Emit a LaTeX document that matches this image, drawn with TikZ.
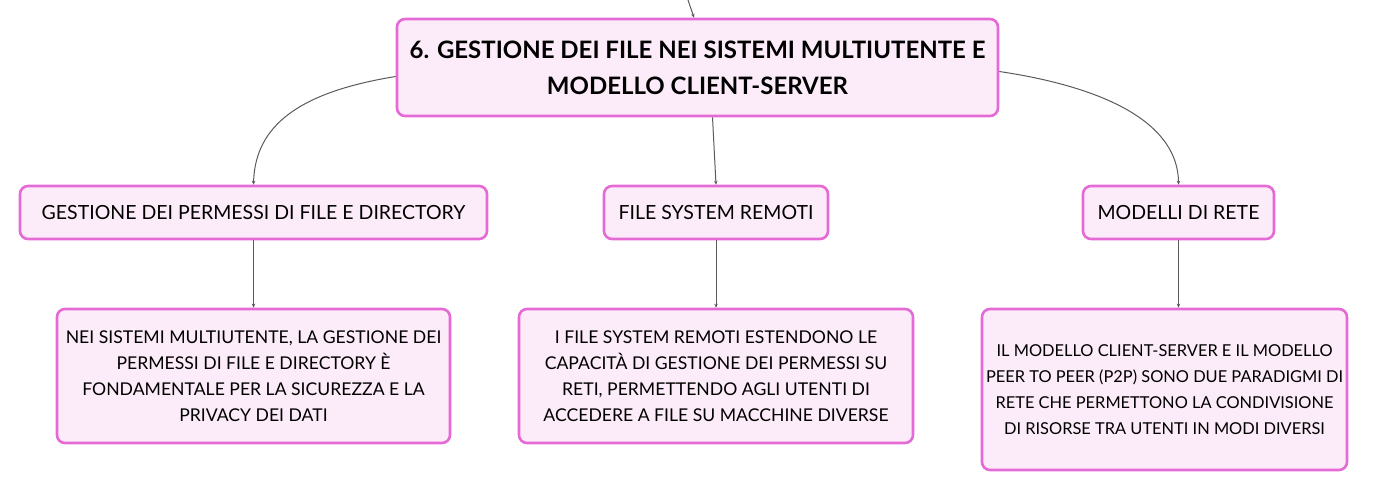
\documentclass[tikz,border=0pt]{standalone}
\usepackage{fontspec}
\setmainfont{Lato}
\usetikzlibrary{arrows.meta}
\definecolor{bpink}{HTML}{E66AD6}
\definecolor{fpink}{HTML}{FCEBF8}
\definecolor{lgray}{HTML}{5A5A5A}
\tikzset{
  box/.style={draw=bpink, fill=fpink, line width=2.6pt, rounded corners=8pt, align=center, inner sep=0pt, text=black},
  titlebox/.style={box, font=\fontsize{24}{36}\selectfont\bfseries},
  midbox/.style={box, font=\fontsize{19.5}{26}\selectfont},
  bodybox/.style={box, font=\fontsize{17.6}{26}\selectfont},
  smallbodybox/.style={box, font=\fontsize{16.4}{26}\selectfont},
  conn/.style={draw=lgray, line width=1pt},
  arr/.style={conn, -{Stealth[length=4pt,width=3.5pt]}}
}
\begin{document}
\begin{tikzpicture}[x=1pt,y=-1pt]
\useasboundingbox (0,0) rectangle (1396,492);
\node[titlebox, minimum width=601pt, minimum height=97pt] (T) at (697.5,67.5) {6. GESTIONE DEI FILE NEI SISTEMI MULTIUTENTE E\\MODELLO CLIENT-SERVER};
\node[midbox, minimum width=467pt, minimum height=53pt] (A) at (253.5,212.5) {GESTIONE DEI PERMESSI DI FILE E DIRECTORY};
\node[midbox, minimum width=224pt, minimum height=53pt] (B) at (716,212.5) {FILE SYSTEM REMOTI};
\node[midbox, minimum width=191pt, minimum height=53pt] (C) at (1178.5,212.5) {MODELLI DI RETE};
\node[bodybox, minimum width=393pt, minimum height=134pt] (D) at (253.5,376) {NEI SISTEMI MULTIUTENTE, LA GESTIONE DEI\\PERMESSI DI FILE E DIRECTORY È\\FONDAMENTALE PER LA SICUREZZA E LA\\PRIVACY DEI DATI};
\node[bodybox, minimum width=394pt, minimum height=134pt] (E) at (716,376) {I FILE SYSTEM REMOTI ESTENDONO LE\\CAPACITÀ DI GESTIONE DEI PERMESSI SU\\RETI, PERMETTENDO AGLI UTENTI DI\\ACCEDERE A FILE SU MACCHINE DIVERSE};
\node[smallbodybox, minimum width=365pt, minimum height=161pt] (F) at (1164.5,389.5) {IL MODELLO CLIENT-SERVER E IL MODELLO\\PEER TO PEER (P2P) SONO DUE PARADIGMI DI\\RETE CHE PERMETTONO LA CONDIVISIONE\\DI RISORSE TRA UTENTI IN MODI DIVERSI};
\coordinate (top) at (688,0);
\draw[arr] (top) -- ([xshift=-3.5pt]T.north);
\draw[arr] ([yshift=-9pt]T.west) .. controls (300,92) and (255,125) .. (A.north);
\draw[arr] ([yshift=-4pt]T.east) .. controls (1110,88) and (1178,125) .. (C.north);
\draw[arr] ([xshift=15pt]T.south) -- (B.north);
\draw[arr] (A.south) -- (D.north);
\draw[arr] (B.south) -- (E.north);
\draw[arr] (C.south) -- (C.south |- F.north);
\end{tikzpicture}
\end{document}
